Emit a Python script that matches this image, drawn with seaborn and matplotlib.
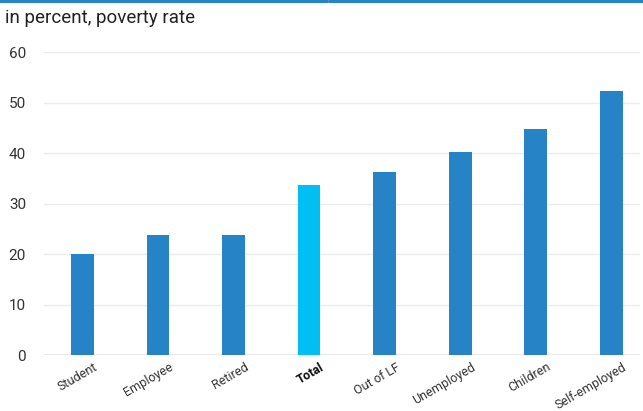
import matplotlib
matplotlib.use("Agg")
import matplotlib.pyplot as plt
import seaborn as sns
import pandas as pd
from matplotlib.lines import Line2D
from matplotlib.transforms import ScaledTranslation

categories = ["Student", "Employee", "Retired", "Total", "Out of LF",
              "Unemployed", "Children", "Self-employed"]
poverty_rate = [20.0, 23.8, 23.8, 33.7, 36.3, 40.3, 44.8, 52.4]
y_ticks = [0, 10, 20, 30, 40, 50, 60]
highlight = "Total"

df = pd.DataFrame({"group": categories, "rate": poverty_rate})

sns.set_theme(style="white")
fonts = ["Roboto", "DejaVu Sans"]
plt.rcParams["font.family"] = fonts

BLUE = "#2683c6"
CYAN = "#00bff3"
palette = {c: (CYAN if c == highlight else BLUE) for c in categories}

fig = plt.figure(figsize=(6.43, 4.11), dpi=100)
ax = fig.add_axes([44 / 643, 1 - 355 / 411, (640 - 44) / 643, (355 - 52.5) / 411])

sns.barplot(data=df, x="group", y="rate", hue="group", palette=palette,
            order=categories, width=0.3, legend=False, ax=ax, zorder=3,
            linewidth=0, saturation=1)

ax.set_ylim(0, 60)
ax.set_xlim(-0.51, 7.38)
ax.set_yticks(y_ticks)
ax.yaxis.grid(True, color="#ebebeb", linewidth=1, zorder=0)
ax.axhline(0, color="#e6e6e6", linewidth=2, zorder=2)
for s in ax.spines.values():
    s.set_visible(False)
ax.set_xlabel("")
ax.set_ylabel("")
ax.tick_params(axis="both", length=0)
ax.tick_params(axis="y", labelsize=11, labelcolor="#333333", pad=13)
ax.set_xticks(range(len(categories)))
ax.set_xticklabels(categories, rotation=30, ha="right", rotation_mode="anchor",
                   fontsize=9, color="#333333")
ax.tick_params(axis="x", pad=4)
# align the end of each label with the right edge of its bar
offset = ScaledTranslation(11 / 100, 0, fig.dpi_scale_trans)
for lbl in ax.get_xticklabels():
    lbl.set_transform(lbl.get_transform() + offset)
    if lbl.get_text() == highlight:
        lbl.set_fontweight("bold")
        lbl.set_color("#111111")

fig.text(5 / 643, 1 - 18 / 411, "in percent, poverty rate", fontsize=13.5,
         color="#222222", va="center", ha="left")

# top rule
fig.add_artist(Line2D([0, 327 / 643], [1 - 1.5 / 411] * 2, color=BLUE, linewidth=2.2,
                      transform=fig.transFigure))
fig.add_artist(Line2D([329 / 643, 1], [1 - 1.5 / 411] * 2, color=BLUE, linewidth=2.2,
                      transform=fig.transFigure))

fig.savefig("out.png", dpi=100)
